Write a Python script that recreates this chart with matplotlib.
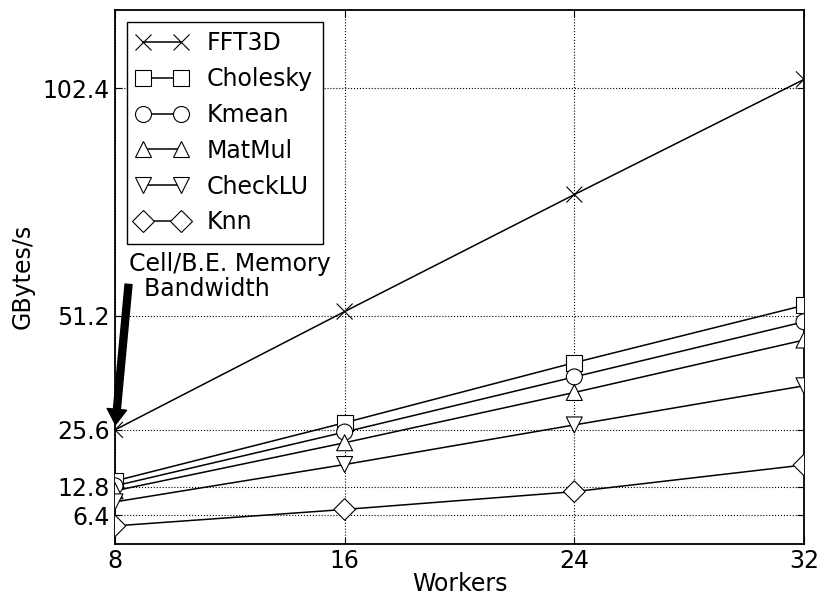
"""
Plot memory bandwidth (GBytes/s) against number of workers for several
benchmarks and mark the Cell/B.E. memory bandwidth.
"""

#####################################
# Import Modules
#####################################

import matplotlib
matplotlib.use("Agg")
import matplotlib.pyplot as plt
from matplotlib.lines import Line2D

#####################################
# Declare Global Variables
#####################################

workers = [8, 16, 24, 32]

fft3d = [25.6, 52.2, 78.5, 104.4]
cholesky = [14.1, 27.2, 40.7, 53.6]
kmean = [13.0, 25.1, 37.5, 49.9]
matmul = [11.9, 22.7, 34.0, 45.8]
checklu = [9.4, 17.8, 26.7, 35.5]
knn = [4.0, 7.7, 11.7, 17.7]

series_names = ["FFT3D", "Cholesky", "Kmean", "MatMul", "CheckLU", "Knn"]
series_markers = ["x", "s", "o", "^", "v", "D"]

y_ticks = [6.4, 12.8, 25.6, 51.2, 102.4]
y_tick_labels = ["6.4", "12.8", "25.6", "51.2", "102.4"]

cell_be_bandwidth = 25.6

#####################################
# Define Functions
#####################################

def produce_line_graph(output_path: str):
    """Draw the bandwidth lines and save the figure."""
    plt.rcParams["font.family"] = "DejaVu Sans"
    plt.rcParams["font.size"] = 17

    fig = plt.figure(figsize=(8.23, 5.97), dpi=100)
    ax = fig.add_axes([0.1397, 0.0893, 0.8372, 0.8939])

    all_series = [fft3d, cholesky, kmean, matmul, checklu, knn]
    handles = []
    n = len(workers)
    for name, marker, values in zip(series_names, series_markers, all_series):
        size = 11 if marker == "D" else 11.5
        ax.plot(workers, values, color="black", linewidth=1.1, zorder=2)
        # markers as a scatter with per-point colours, so agg clips them
        # at the axes edge like the original
        face = ["black"] * n if marker == "x" else ["white"] * n
        ax.scatter(workers, values, marker=marker, s=size ** 2,
                   facecolors=face, edgecolors=["black"] * n,
                   linewidths=0.8, zorder=3)
        handles.append(Line2D([], [], color="black", linewidth=1.1,
                              marker=marker, markersize=size,
                              markerfacecolor="white", markeredgecolor="black",
                              markeredgewidth=0.8, label=name))

    ax.set_xlim(8, 32)
    ax.set_ylim(0, 120)
    ax.set_xticks(workers)
    ax.set_yticks(y_ticks)
    ax.set_yticklabels(y_tick_labels)
    ax.tick_params(direction="in", top=True, right=True, length=5,
                   labelsize=17)
    ax.tick_params(axis="x", pad=4)
    ax.tick_params(axis="y", pad=3.5)
    ax.grid(True, color="black", linestyle=":", linewidth=0.8)
    for spine in ax.spines.values():
        spine.set_linewidth(1.3)

    ax.set_xlabel("Workers", fontsize=17, labelpad=-1)
    ax.set_ylabel("GBytes/s", fontsize=17, labelpad=6)

    # Arrow pointing at the Cell/B.E. memory bandwidth
    ax.annotate("", xy=(workers[0], cell_be_bandwidth), xytext=(8.49, 59.5),
                arrowprops=dict(facecolor="black", edgecolor="black",
                                width=5, headwidth=14, headlength=11,
                                shrink=0.035))
    ax.text(8.49, 65.7, "Cell/B.E. Memory\n  Bandwidth", ha="left", va="top",
            fontsize=17, linespacing=1.1)

    legend = ax.legend(handles=handles, loc="upper left", numpoints=2,
                       fontsize=17, fancybox=False, framealpha=1.0,
                       edgecolor="black", handlelength=2.2, labelspacing=0.5,
                       borderaxespad=0.5, handletextpad=0.8, borderpad=0.4)
    legend.get_frame().set_linewidth(1.0)
    legend.set_zorder(5)

    fig.savefig(output_path, dpi=100)
    plt.close(fig)

#####################################
# Main Execution
#####################################

if __name__ == "__main__":
    produce_line_graph("out.png")
